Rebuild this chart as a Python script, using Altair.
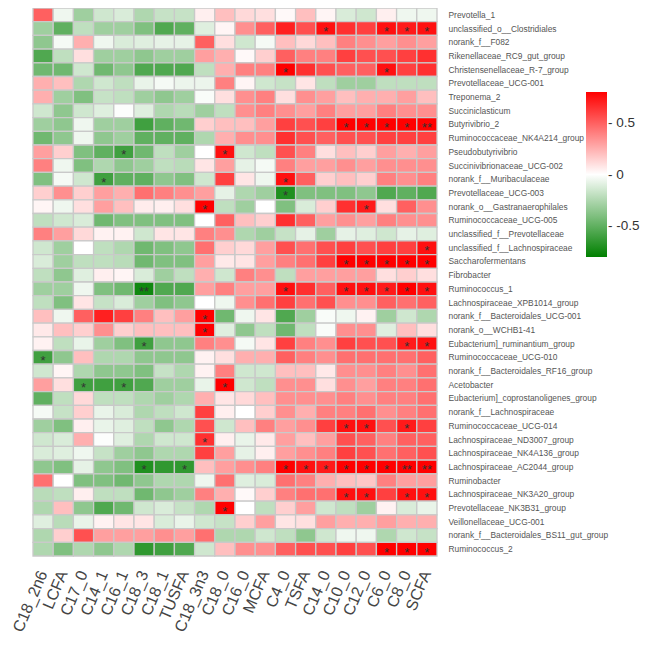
import altair as alt
import pandas as pd

taxa = [
    "Prevotella_1", "unclassified_o__Clostridiales", "norank_f__F082",
    "Rikenellaceae_RC9_gut_group", "Christensenellaceae_R-7_group",
    "Prevotellaceae_UCG-001", "Treponema_2", "Succiniclasticum", "Butyrivibrio_2",
    "Ruminococcaceae_NK4A214_group", "Pseudobutyrivibrio",
    "Succinivibrionaceae_UCG-002", "norank_f__Muribaculaceae",
    "Prevotellaceae_UCG-003", "norank_o__Gastranaerophilales",
    "Ruminococcaceae_UCG-005", "unclassified_f__Prevotellaceae",
    "unclassified_f__Lachnospiraceae", "Saccharofermentans", "Fibrobacter",
    "Ruminococcus_1", "Lachnospiraceae_XPB1014_group",
    "norank_f__Bacteroidales_UCG-001", "norank_o__WCHB1-41",
    "Eubacterium]_ruminantium_group", "Ruminococcaceae_UCG-010",
    "norank_f__Bacteroidales_RF16_group", "Acetobacter",
    "Eubacterium]_coprostanoligenes_group", "norank_f__Lachnospiraceae",
    "Ruminococcaceae_UCG-014", "Lachnospiraceae_ND3007_group",
    "Lachnospiraceae_NK4A136_group", "Lachnospiraceae_AC2044_group",
    "Ruminobacter", "Lachnospiraceae_NK3A20_group", "Prevotellaceae_NK3B31_group",
    "Veillonellaceae_UCG-001", "norank_f__Bacteroidales_BS11_gut_group",
    "Ruminococcus_2",
]

acids = ["C18_2n6", "LCFA", "C17_0", "C14_1", "C16_1", "C18_3", "C18_1", "TUSFA",
         "C18_3n3", "C18_0", "C16_0", "MCFA", "C4_0", "TSFA", "C14_0", "C10_0",
         "C12_0", "C6_0", "C8_0", "SCFA"]

r_values = [
    [0.5, -0.05, -0.3, -0.15, -0.12, -0.25, -0.18, -0.18, 0.05, 0.2, 0.12, 0.1, 0.02, 0.2, 0.03, -0.12, -0.15, 0.05, -0.05, -0.05],
    [-0.3, -0.5, -0.2, -0.3, -0.3, -0.4, -0.55, -0.5, -0.1, 0.03, 0.35, 0.5, 0.7, 0.55, 0.75, 0.65, 0.6, 0.75, 0.72, 0.75],
    [-0.35, -0.03, 0.25, -0.05, -0.12, -0.1, -0.08, -0.08, 0.5, 0.1, -0.15, -0.03, 0.2, 0.12, 0.2, 0.4, 0.35, 0.3, 0.35, 0.3],
    [-0.55, -0.2, 0.1, -0.3, -0.3, -0.35, -0.3, -0.3, 0.3, 0.25, 0.02, 0.15, 0.5, 0.4, 0.4, 0.6, 0.55, 0.55, 0.6, 0.65],
    [-0.45, -0.45, -0.15, -0.45, -0.35, -0.55, -0.55, -0.55, -0.2, 0.25, 0.4, 0.4, 0.8, 0.65, 0.55, 0.5, 0.5, 0.75, 0.6, 0.65],
    [0.25, 0.2, -0.25, -0.15, -0.2, -0.07, -0.03, -0.06, -0.06, 0.4, 0.03, -0.15, -0.18, 0.08, -0.2, -0.3, -0.3, -0.2, -0.2, -0.2],
    [0.25, -0.3, -0.4, -0.18, -0.2, -0.3, -0.35, -0.3, -0.02, 0.1, 0.35, 0.4, 0.1, 0.35, 0.3, 0.2, 0.25, 0.25, 0.3, 0.2],
    [-0.15, -0.35, -0.15, -0.1, -0.01, -0.1, -0.25, -0.22, -0.3, -0.2, 0.35, 0.4, 0.35, 0.3, 0.4, 0.3, 0.3, 0.4, 0.35, 0.35],
    [-0.3, -0.35, -0.05, -0.3, -0.3, -0.6, -0.5, -0.45, 0.15, 0.2, 0.2, 0.3, 0.6, 0.55, 0.6, 0.8, 0.8, 0.8, 0.8, 0.85],
    [-0.45, -0.35, -0.05, -0.35, -0.3, -0.5, -0.5, -0.5, -0.25, 0.25, 0.35, 0.35, 0.65, 0.55, 0.5, 0.55, 0.55, 0.6, 0.6, 0.6],
    [0.3, 0.15, -0.4, -0.5, -0.6, -0.45, -0.2, -0.3, 0.0, 0.75, -0.15, -0.2, 0.55, 0.4, 0.1, 0.2, 0.15, 0.3, 0.25, 0.3],
    [0.4, -0.05, -0.4, -0.25, -0.35, -0.3, -0.2, -0.22, 0.08, 0.3, -0.08, -0.03, 0.4, 0.3, 0.3, 0.35, 0.3, 0.35, 0.35, 0.35],
    [-0.4, -0.03, -0.15, -0.6, -0.5, -0.5, -0.35, -0.4, -0.15, 0.6, 0.08, -0.05, 0.75, 0.5, 0.15, 0.2, 0.15, 0.4, 0.35, 0.4],
    [0.15, 0.35, 0.15, 0.3, 0.25, 0.45, 0.4, 0.35, 0.3, -0.08, -0.25, -0.3, -0.7, -0.4, -0.4, -0.4, -0.35, -0.55, -0.5, -0.55],
    [0.03, -0.05, 0.1, 0.3, 0.2, 0.06, 0.05, 0.1, 0.8, -0.2, -0.3, 0.0, -0.4, -0.12, 0.15, 0.65, 0.72, 0.1, 0.5, 0.35],
    [-0.2, -0.15, -0.12, -0.45, -0.4, -0.4, -0.4, -0.4, 0.0, 0.5, 0.2, 0.15, 0.65, 0.5, 0.3, 0.35, 0.3, 0.4, 0.35, 0.35],
    [0.4, 0.3, 0.12, 0.04, 0.04, -0.15, 0.08, 0.08, 0.4, 0.35, -0.25, -0.3, -0.18, -0.08, -0.3, -0.08, -0.1, -0.15, -0.08, -0.1],
    [-0.15, -0.3, 0.0, -0.2, -0.25, -0.45, -0.4, -0.35, 0.45, 0.15, 0.12, 0.3, 0.55, 0.45, 0.55, 0.6, 0.55, 0.6, 0.6, 0.75],
    [-0.12, -0.3, -0.2, -0.2, -0.22, -0.45, -0.4, -0.4, 0.3, 0.07, 0.08, 0.3, 0.4, 0.45, 0.6, 0.8, 0.8, 0.8, 0.85, 0.8],
    [-0.2, -0.35, -0.1, 0.05, 0.03, -0.12, -0.3, -0.2, 0.25, -0.15, 0.4, 0.35, -0.2, 0.3, 0.3, 0.3, 0.3, 0.1, 0.15, 0.1],
    [-0.3, -0.3, -0.05, -0.4, -0.45, -0.75, -0.55, -0.55, 0.3, 0.4, 0.3, 0.3, 0.75, 0.65, 0.5, 0.75, 0.75, 0.72, 0.8, 0.75],
    [-0.2, -0.4, 0.08, -0.18, -0.12, -0.3, -0.4, -0.35, 0.0, -0.05, 0.35, 0.45, 0.6, 0.45, 0.55, 0.35, 0.35, 0.5, 0.45, 0.5],
    [0.2, -0.05, 0.5, 0.7, 0.6, 0.4, 0.2, 0.3, 0.8, -0.45, -0.05, 0.08, -0.55, -0.3, -0.02, -0.05, 0.04, -0.3, -0.15, -0.25],
    [0.07, 0.2, 0.15, 0.35, 0.15, 0.2, 0.2, 0.2, 0.8, -0.1, -0.35, -0.2, -0.45, -0.2, -0.02, 0.35, 0.35, -0.1, 0.2, 0.1],
    [0.04, -0.2, -0.07, -0.3, -0.4, -0.6, -0.35, -0.35, 0.4, 0.35, -0.03, 0.08, 0.6, 0.4, 0.35, 0.6, 0.55, 0.55, 0.72, 0.75],
    [-0.6, -0.35, 0.2, -0.25, -0.25, -0.35, -0.35, -0.35, 0.04, 0.1, 0.25, 0.25, 0.5, 0.4, 0.35, 0.45, 0.45, 0.45, 0.45, 0.5],
    [-0.15, 0.03, -0.25, -0.35, -0.35, -0.4, -0.18, -0.25, 0.04, 0.4, -0.15, -0.15, 0.2, 0.2, 0.07, 0.35, 0.35, 0.4, 0.35, 0.45],
    [0.3, 0.1, -0.6, -0.6, -0.6, -0.55, -0.3, -0.3, -0.07, 0.8, -0.15, -0.2, 0.35, 0.35, 0.1, 0.35, 0.3, 0.4, 0.4, 0.45],
    [-0.5, -0.2, 0.12, -0.2, -0.2, -0.25, -0.3, -0.25, 0.25, 0.08, 0.12, 0.2, 0.35, 0.35, 0.35, 0.4, 0.35, 0.4, 0.4, 0.45],
    [-0.03, -0.18, 0.15, -0.07, -0.12, -0.25, -0.2, -0.15, 0.6, 0.05, 0.0, 0.15, 0.35, 0.25, 0.4, 0.4, 0.45, 0.35, 0.4, 0.45],
    [-0.3, -0.4, 0.05, -0.07, -0.1, -0.2, -0.35, -0.25, 0.55, -0.15, 0.2, 0.4, 0.3, 0.35, 0.6, 0.75, 0.75, 0.55, 0.72, 0.6],
    [-0.15, -0.12, 0.25, -0.01, -0.1, -0.25, -0.15, -0.15, 0.65, 0.05, -0.07, 0.07, 0.3, 0.2, 0.3, 0.55, 0.5, 0.4, 0.5, 0.5],
    [-0.12, -0.1, -0.05, -0.18, -0.3, -0.35, -0.25, -0.25, 0.6, 0.3, -0.08, 0.05, 0.3, 0.35, 0.4, 0.6, 0.55, 0.45, 0.5, 0.55],
    [-0.35, -0.4, -0.08, -0.35, -0.4, -0.7, -0.65, -0.65, 0.2, 0.3, 0.35, 0.4, 0.8, 0.75, 0.72, 0.8, 0.8, 0.8, 0.85, 0.85],
    [0.45, 0.0, -0.4, -0.4, -0.45, -0.35, -0.25, -0.25, -0.05, 0.45, -0.1, -0.12, 0.45, 0.4, 0.25, 0.2, 0.18, 0.4, 0.3, 0.3],
    [-0.22, -0.2, 0.05, -0.2, -0.2, -0.45, -0.35, -0.3, 0.4, 0.25, 0.02, 0.15, 0.4, 0.45, 0.45, 0.75, 0.75, 0.6, 0.75, 0.75],
    [-0.25, 0.2, -0.35, -0.55, -0.45, -0.15, -0.12, -0.18, -0.25, 0.8, 0.0, -0.2, 0.15, 0.3, -0.15, -0.2, -0.3, 0.04, -0.12, -0.07],
    [-0.1, -0.22, -0.07, 0.04, 0.08, 0.08, -0.12, -0.07, -0.15, -0.18, 0.15, 0.3, 0.08, 0.1, 0.3, 0.25, 0.25, 0.3, 0.25, 0.25],
    [-0.25, 0.15, 0.55, 0.3, 0.3, 0.3, 0.35, 0.3, 0.45, -0.25, -0.25, -0.15, -0.2, -0.35, -0.15, -0.05, -0.05, -0.25, -0.15, -0.18],
    [-0.25, -0.4, -0.25, -0.35, -0.25, -0.65, -0.6, -0.55, -0.15, 0.2, 0.35, 0.35, 0.5, 0.55, 0.55, 0.6, 0.55, 0.8, 0.8, 0.8],
]

# (taxon index, acid index, significance mark)
stars = [
    (1, 14, "*"), (1, 17, "*"), (1, 18, "*"), (1, 19, "*"),
    (4, 12, "*"), (4, 17, "*"),
    (8, 15, "*"), (8, 16, "*"), (8, 17, "*"), (8, 18, "*"), (8, 19, "**"),
    (10, 4, "*"), (10, 9, "*"),
    (12, 3, "*"), (12, 12, "*"),
    (13, 12, "*"),
    (14, 8, "*"), (14, 16, "*"),
    (17, 19, "*"),
    (18, 15, "*"), (18, 16, "*"), (18, 17, "*"), (18, 18, "*"), (18, 19, "*"),
    (20, 5, "**"), (20, 12, "*"), (20, 15, "*"), (20, 16, "*"), (20, 17, "*"), (20, 18, "*"), (20, 19, "*"),
    (22, 8, "*"), (23, 8, "*"),
    (24, 5, "*"), (24, 18, "*"), (24, 19, "*"),
    (25, 0, "*"),
    (27, 2, "*"), (27, 4, "*"), (27, 9, "*"),
    (30, 15, "*"), (30, 16, "*"), (30, 18, "*"),
    (31, 8, "*"),
    (33, 5, "*"), (33, 7, "*"), (33, 12, "*"), (33, 13, "*"), (33, 14, "*"), (33, 15, "*"),
    (33, 16, "*"), (33, 17, "*"), (33, 18, "**"), (33, 19, "**"),
    (35, 15, "*"), (35, 16, "*"), (35, 18, "*"), (35, 19, "*"),
    (36, 9, "*"),
    (39, 17, "*"), (39, 18, "*"), (39, 19, "*"),
]

legend_ticks = [-0.5, 0, 0.5]

cells = pd.DataFrame(
    [{"taxon": t, "acid": a, "r": r_values[i][j]}
     for i, t in enumerate(taxa) for j, a in enumerate(acids)]
)
marks = pd.DataFrame(
    [{"taxon": taxa[i], "acid": acids[j], "sig": s} for i, j, s in stars]
)

sans = "Liberation Sans, Arial, sans-serif"

x_enc = alt.X(
    "acid:N", sort=acids, title=None,
    scale=alt.Scale(paddingInner=0, paddingOuter=0),
    axis=alt.Axis(orient="bottom", labelAngle=293, labelAlign="right",
                  labelBaseline="middle", labelFontSize=16, labelFont=sans,
                  labelColor="#444444", ticks=False, domain=False,
                  labelPadding=15, labelOverlap=False),
)
y_enc = alt.Y(
    "taxon:N", sort=taxa, title=None,
    scale=alt.Scale(paddingInner=0, paddingOuter=0),
    axis=alt.Axis(orient="right", ticks=False, domain=False, labelFontSize=8.4,
                  labelFont=sans, labelColor="#555555", labelPadding=11,
                  labelOverlap=False, labelLimit=300),
)

heat = alt.Chart(cells).mark_rect(stroke="#c9c9c9", strokeWidth=1.3).encode(
    x=x_enc,
    y=y_enc,
    color=alt.Color(
        "r:Q",
        scale=alt.Scale(domain=[-0.8, 0, 0.8],
                        range=["#008000", "#ffffff", "#ff0000"],
                        interpolate="rgb", clamp=True),
        legend=alt.Legend(
            orient="none", legendX=553, legendY=84, direction="vertical",
            title=None, gradientLength=165, gradientThickness=21,
            gradientStrokeWidth=0, values=legend_ticks,
            labelExpr="datum.value < 0 ? '- -' + format(-datum.value, '~g') : '- ' + format(datum.value, '~g')",
            labelFontSize=13.5, labelFont=sans, labelColor="#333333",
            labelOffset=1,
        ),
    ),
)

text = alt.Chart(marks).mark_text(
    fontSize=13, color="#333333", baseline="middle", dy=3.5, font=sans,
).encode(
    x=alt.X("acid:N", sort=acids),
    y=alt.Y("taxon:N", sort=taxa),
    text="sig:N",
)

chart = alt.layer(heat, text).properties(
    width=404, height=548,
    padding={"left": 25, "top": 0, "right": 203, "bottom": 80},
    autosize=alt.AutoSizeParams(type="none"),
).configure_view(strokeWidth=0)

chart.save("out.html", embed_options={"renderer": "svg", "actions": False})
